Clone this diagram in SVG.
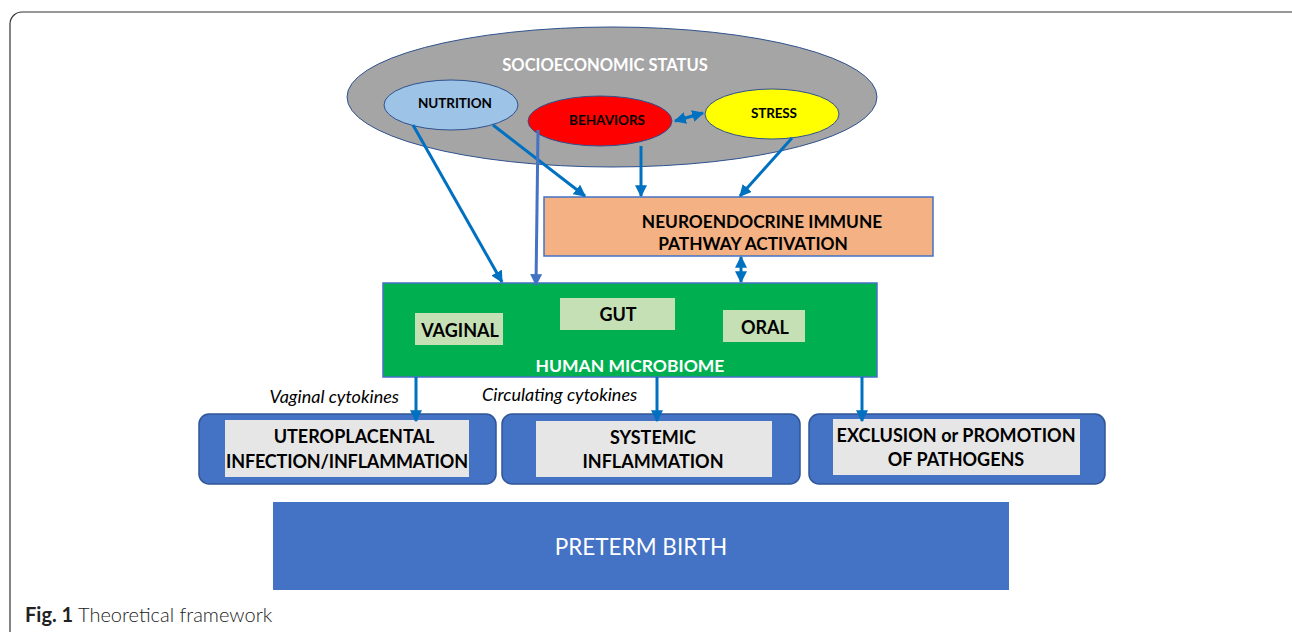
<svg xmlns="http://www.w3.org/2000/svg" width="1292" height="632" viewBox="0 0 1292 632">
<style>
text{font-family:Lato,"Open Sans","Liberation Sans",sans-serif;}
.b{font-weight:bold;fill:#000;font-size:18px;text-anchor:middle;}
.s{font-weight:bold;fill:#000;font-size:13.5px;text-anchor:middle;}
.w{font-weight:bold;fill:#fff;text-anchor:middle;}
.it{font-style:italic;font-size:18px;fill:#000;}
.con{stroke:#0070C0;stroke-width:3;fill:none;}
.sub{fill:#C5E0B4;}
.outer{fill:#4472C4;stroke:#2F5597;stroke-width:1.5;}
.inner{fill:#E7E6E6;}
</style>
<defs>
<marker id="ah" viewBox="0 0 10 10" refX="9" refY="5" markerWidth="4" markerHeight="4" orient="auto-start-reverse">
<path d="M0,0 L10,5 L0,10 z" fill="#0070C0"/>
</marker>
<marker id="ah2" viewBox="0 0 10 10" refX="9" refY="5" markerWidth="4" markerHeight="4" orient="auto-start-reverse">
<path d="M0,0 L10,5 L0,10 z" fill="#4472C4"/>
</marker>
</defs>
<rect x="0" y="0" width="1292" height="632" fill="#fff"/>
<rect x="10" y="12" width="1300" height="640" rx="12" fill="none" stroke="#333" stroke-width="1.2"/>

<g id="ses">
<ellipse cx="612" cy="97" rx="265" ry="70" fill="#A5A5A5" stroke="#2F528F" stroke-width="1"/>
<text x="605" y="71" class="w" font-size="16.5">SOCIOECONOMIC STATUS</text>
</g>
<g id="nutrition">
<ellipse cx="451" cy="105" rx="67" ry="25" fill="#9DC3E6" stroke="#2F528F" stroke-width="1"/>
<text x="455" y="108" class="s" textLength="74">NUTRITION</text>
</g>
<g id="behaviors">
<ellipse cx="600" cy="121" rx="72" ry="25" fill="#FF0000" stroke="#2F528F" stroke-width="1"/>
<text x="607" y="125" class="s" textLength="76">BEHAVIORS</text>
</g>
<g id="stress">
<ellipse cx="772" cy="114" rx="67" ry="25" fill="#FFFF00" stroke="#2F528F" stroke-width="1"/>
<text x="774" y="118" class="s" textLength="46">STRESS</text>
</g>
<g id="neuro">
<rect x="544" y="197" width="389" height="59" fill="#F4B183" stroke="#4472C4" stroke-width="1.5"/>
<text x="762" y="228" class="b" style="font-size:17.3px">NEUROENDOCRINE IMMUNE</text>
<text x="753" y="250" class="b" style="font-size:17.3px">PATHWAY ACTIVATION</text>
</g>
<g id="microbiome">
<rect x="383" y="283" width="494" height="94" fill="#00B050" stroke="#4472C4" stroke-width="1.5"/>
<rect x="415" y="313" width="88" height="32" class="sub"/>
<text x="460" y="337" class="b">VAGINAL</text>
<rect x="560" y="298" width="115" height="32" class="sub"/>
<text x="618" y="321" class="b">GUT</text>
<rect x="723" y="310" width="82" height="32" class="sub"/>
<text x="765" y="334" class="b">ORAL</text>
<text x="630" y="372" class="w" font-size="17.5">HUMAN MICROBIOME</text>
</g>
<g id="uteroplacental">
<rect x="199" y="414" width="297" height="70" rx="10" class="outer"/>
<rect x="225" y="420" width="244" height="57" class="inner"/>
<text x="354" y="443" class="b">UTEROPLACENTAL</text>
<text x="347" y="468" class="b" textLength="242">INFECTION/INFLAMMATION</text>
</g>
<g id="systemic">
<rect x="502" y="414" width="298" height="70" rx="10" class="outer"/>
<rect x="536" y="421" width="236" height="56" class="inner"/>
<text x="653" y="444" class="b">SYSTEMIC</text>
<text x="653" y="468" class="b">INFLAMMATION</text>
</g>
<g id="exclusion">
<rect x="809" y="414" width="296" height="70" rx="10" class="outer"/>
<rect x="833" y="419" width="247" height="56" class="inner"/>
<text x="956" y="442" class="b" textLength="239">EXCLUSION or PROMOTION</text>
<text x="956" y="466" class="b">OF PATHOGENS</text>
</g>
<g id="preterm">
<rect x="273" y="502" width="736" height="88" fill="#4472C4"/>
<text x="641" y="555" font-size="22.5" fill="#fff" text-anchor="middle">PRETERM BIRTH</text>
</g>

<g id="connectors">
<line x1="413" y1="125" x2="502" y2="282" class="con" marker-end="url(#ah)"/>
<line x1="493" y1="125" x2="585" y2="196" class="con" marker-end="url(#ah)"/>
<line x1="641" y1="146" x2="641" y2="196" class="con" marker-end="url(#ah)"/>
<line x1="792" y1="138" x2="740" y2="196" class="con" marker-end="url(#ah)"/>
<line x1="538" y1="130" x2="536" y2="285" stroke="#4472C4" stroke-width="3" marker-end="url(#ah2)"/>
<line x1="675" y1="121" x2="703" y2="113" class="con" marker-start="url(#ah)" marker-end="url(#ah)"/>
<line x1="741" y1="257" x2="741" y2="282" class="con" marker-start="url(#ah)" marker-end="url(#ah)"/>
<line x1="416" y1="377" x2="416" y2="421" class="con" marker-end="url(#ah)"/>
<line x1="657" y1="377" x2="657" y2="421" class="con" marker-end="url(#ah)"/>
<line x1="862" y1="377" x2="862" y2="421" class="con" marker-end="url(#ah)"/>
</g>
<text x="399" y="403" class="it" text-anchor="end">Vaginal cytokines</text>
<text x="482" y="401" class="it">Circulating cytokines</text>

<text x="25" y="622" font-size="20" fill="#222"><tspan font-weight="bold">Fig. 1</tspan><tspan font-weight="300"> Theoretical framework</tspan></text>
</svg>
